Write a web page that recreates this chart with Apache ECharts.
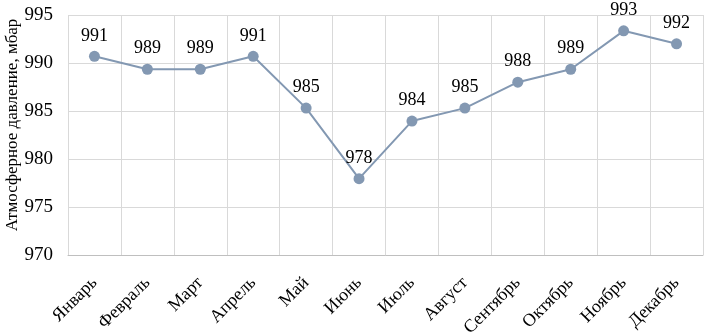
<!DOCTYPE html>
<html>
<head>
<meta charset="utf-8">
<script src="https://cdn.jsdelivr.net/npm/echarts@6/dist/echarts.min.js"></script>
<style>
    html, body { margin: 0; padding: 0; background: #fff; }
    #chart { width: 705px; height: 333px; }
</style>
</head>
<body>
<div id="chart"></div>
<script>
// данные
const months = ['Январь', 'Февраль', 'Март', 'Апрель', 'Май', 'Июнь', 'Июль', 'Август', 'Сентябрь', 'Октябрь', 'Ноябрь', 'Декабрь'];
const pressure = [990.7, 989.35, 989.35, 990.7, 985.3, 977.95, 983.95, 985.3, 988.0, 989.35, 993.35, 992.0];
const yMin = 970;
const yMax = 995;
const yStep = 5;

const serif = '"Liberation Serif", "Times New Roman", serif';
const lineColor = '#8398b2';

function initChart() {
    const chart = echarts.init(document.getElementById('chart'));
    const option = {
        animation: false,
        grid: {
            left: 68,
            right: 2,
            top: 15,
            bottom: 78,
            containLabel: false,
            outerBoundsMode: 'none'
        },
        xAxis: {
            type: 'category',
            data: months,
            boundaryGap: true,
            axisLine: { lineStyle: { color: '#bfbfbf', width: 1 } },
            axisTick: { show: false },
            splitLine: {
                show: true,
                interval: 0,
                lineStyle: { color: '#d9d9d9' }
            },
            axisLabel: {
                interval: 0,
                rotate: 45,
                margin: 25,
                color: '#000',
                fontFamily: serif,
                fontSize: 18
            }
        },
        yAxis: {
            type: 'value',
            min: yMin,
            max: yMax,
            interval: yStep,
            name: 'Атмосферное давление, мбар',
            nameLocation: 'middle',
            nameGap: 47,
            nameMoveOverlap: false,
            nameTextStyle: {
                color: '#000',
                fontFamily: serif,
                fontSize: 17,
                padding: [0, 0, 0, 20]
            },
            axisLine: { show: false },
            axisTick: { show: false },
            axisLabel: {
                color: '#000',
                fontFamily: serif,
                fontSize: 19,
                margin: 15
            },
            splitLine: { lineStyle: { color: '#d9d9d9' } }
        },
        series: [{
            type: 'line',
            data: pressure,
            symbol: 'circle',
            symbolSize: 11,
            lineStyle: { color: lineColor, width: 2 },
            itemStyle: { color: lineColor },
            label: {
                show: true,
                position: 'top',
                distance: 6,
                color: '#000',
                fontFamily: serif,
                fontSize: 18,
                formatter: p => Math.round(p.value)
            }
        }]
    };
    chart.setOption(option);
}

document.addEventListener('DOMContentLoaded', initChart);
</script>
</body>
</html>
